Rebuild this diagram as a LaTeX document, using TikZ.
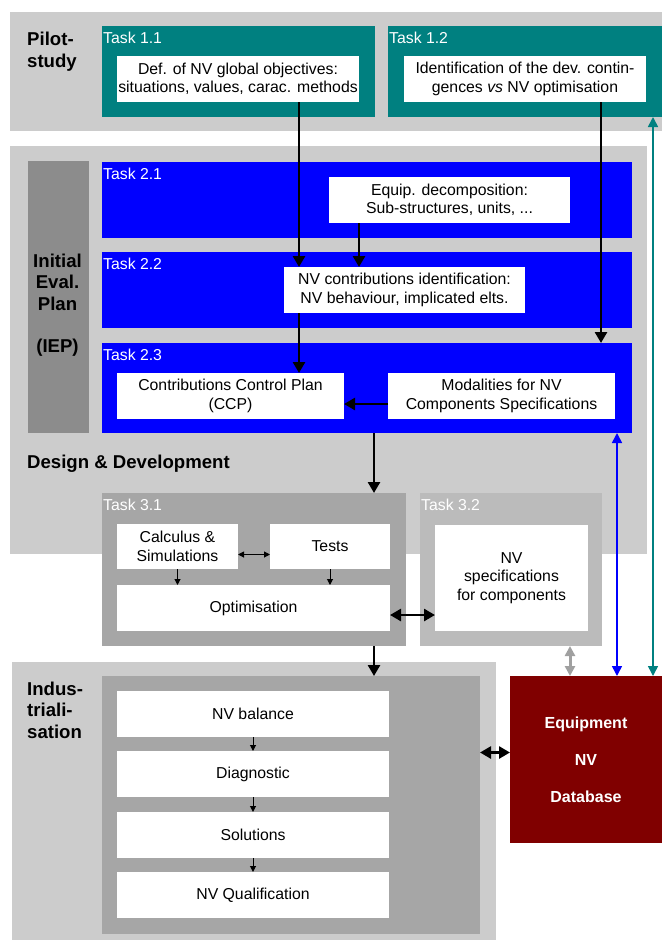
\documentclass[tikz,border=0pt]{standalone}
\usepackage{fontspec}
\setmainfont{Liberation Sans}
\usetikzlibrary{arrows.meta,fit,positioning}

\definecolor{bandgray}{HTML}{CCCCCC}
\definecolor{iepgray}{HTML}{8C8C8C}
\definecolor{midgray}{HTML}{BBBBBB}
\definecolor{taskgray}{HTML}{A6A6A6}
\definecolor{pilotteal}{HTML}{008080}
\definecolor{iepblue}{HTML}{0000FF}
\definecolor{dbred}{HTML}{800000}
\definecolor{linkgray}{HTML}{A0A0A0}

\begin{document}
\begin{tikzpicture}[
x=1pt,y=-1pt,
>={Triangle[length=11pt,width=12pt]},
area/.style={
	inner sep=0pt,
	outer sep=0pt
},
band/.style={
	area,
	fill=bandgray
},
task/.style={
	area,
	fill=#1
},
dims/.style 2 args={
	anchor=north west,
	minimum width=#1pt,
	minimum height=#2pt
},
item/.style={
	area,
	fill=white,
	align=center,
	font=\fontsize{15.8}{18.5}\selectfont
},
tasklabel/.style={
	anchor=north west,
	inner xsep=1pt,
	inner ysep=0pt,
	yshift=-6pt,
	text=white,
	font=\fontsize{15.8}{18.5}\selectfont
},
phase/.style={
	anchor=north west,
	inner sep=0pt,
	align=left,
	font=\fontsize{18.6}{21.5}\selectfont\bfseries
},
flow/.style={
	->,
	line width=2.6pt
},
link/.style={
	<->,
	line width=2.6pt
},
small/.style={
	-{Triangle[length=6pt,width=6pt]},
	line width=1pt
},
smalllink/.style={
	{Triangle[length=6pt,width=6pt]}-{Triangle[length=6pt,width=6pt]},
	line width=1pt
},
dblink/.style={
	{Triangle[length=10pt,width=10pt]}-{Triangle[length=10pt,width=10pt]},
	line width=1.6pt,
	draw=#1
}
]
\useasboundingbox (0,0) rectangle (662,943);

% phases
\node[band,fit={(10,12) (662,131)}] (pilot) {};
\node[band,fit={(10,146) (647,554)}] (design) {};
\node[band,fit={(12,662) (496,940)}] (indus) {};

% tasks
\node[task=pilotteal,fit={(102,26) (375,117)}] (t11) {};
\node[task=pilotteal,fit={(388,26) (662,117)}] (t12) {};
\node[task=iepgray,fit={(28,161) (89,433)}] (iep) {};
\node[task=iepblue,fit={(102,162) (632,238)}] (t21) {};
\node[task=iepblue,fit={(102,252) (632,328)}] (t22) {};
\node[task=iepblue,fit={(102,343) (632,433)}] (t23) {};
\node[task=taskgray,fit={(102,493) (406,646)}] (t31) {};
\node[task=midgray,fit={(420,493) (602,646)}] (t32) {};
\node[task=taskgray,fit={(102,676) (480,934)}] (ind) {};
\node[task=dbred,fit={(510,676) (662,843)}] (db) {};

\foreach \t/\l in {t11/1.1,t12/1.2,t21/2.1,t22/2.2,t23/2.3,t31/3.1,t32/3.2}
\node[tasklabel] (\t lbl) at (\t.north west) {Task \l};

% phase titles
\node[phase] (pilotlbl) at (27,32) {Pilot-\\study};
\node[phase,anchor=north,align=center] (ieplbl) at (57.5,253.5) {Initial\\Eval.\\Plan\\[21pt](IEP)};
\node[phase,anchor=base west] (designlbl) at (27,468) {Design \& Development};
\node[phase] (induslbl) at (27,681.5) {Indus-\\triali-\\sation};
\node[area,align=center,text=white,font=\fontsize{16}{37}\selectfont\bfseries] (dblbl) at (586,760) {Equipment\\NV\\Database};

% boxes
\node[item,dims={242}{46}] (objectives) at (117,56) {Def. of NV global objectives:\\situations, values, carac. methods};
\node[item,dims={242}{46}] (contingences) at (404,56) {Identification of the dev. contin-\\gences \emph{vs} NV optimisation};
\node[item,dims={241}{46}] (decomp) at (329,177) {Equip. decomposition:\\Sub-structures, units, ...};
\node[item,dims={241}{46}] (contrib) at (284,267) {NV contributions identification:\\NV behaviour, implicated elts.};
\node[item,dims={227}{46}] (ccp) at (117,373) {Contributions Control Plan\\(CCP)};
\node[item,dims={227}{46}] (modal) at (388,373) {Modalities for NV\\Components Specifications};
\node[item,dims={121}{45}] (calc) at (117,524) {Calculus \&\\Simulations};
\node[item,dims={120}{45}] (tests) at (270,524) {Tests};
\node[item,dims={273}{46}] (optim) at (117,585) {Optimisation};
\node[item,dims={153}{106}] (nvspec) at (435,525) {NV\\specifications\\for components};

\foreach \n/\y/\txt in {balance/691/NV balance,diag/751/Diagnostic,sol/812/Solutions,qualif/872/NV Qualification}
\node[item,dims={272}{46}] (\n) at (117,\y) {\txt};

% vertical lines
\coordinate (xa) at (299,0);
\coordinate (xb) at (359,0);
\coordinate (xc) at (601,0);
\coordinate (xd) at (374,0);
\coordinate (xe) at (570,0);
\coordinate (xf) at (617,0);
\coordinate (xg) at (653,0);

\draw[flow] (objectives.south -| xa) -- (contrib.north -| xa);
\draw[flow] (decomp.south -| xb) -- (contrib.north -| xb);
\draw[flow] (contingences.south -| xc) -- (t23.north -| xc);
\draw[flow] (contrib.south -| xa) -- (ccp.north -| xa);
\draw[flow] ([yshift=-8pt]modal.west) -- ([yshift=-8pt]ccp.east);
\draw[flow] (t23.south -| xd) -- (t31.north -| xd);
\draw[flow] (t31.south -| xd) -- (ind.north -| xd);

\draw[smalllink] ([yshift=-8pt]calc.east) -- ([yshift=-8pt]tests.west);
\draw[small] (calc) -- (calc |- optim.north);
\draw[small] (tests) -- (tests |- optim.north);
\draw[link] ([yshift=-7pt]optim.east) -- ([yshift=-7pt]optim.east -| nvspec.west);

\foreach \a/\b in {balance/diag,diag/sol,sol/qualif}
\draw[small] (\a) -- (\b);

\draw[link] ([yshift=7pt]db.west) -- ([yshift=7pt]db.west -| ind.east);
\draw[dblink=linkgray,line width=3pt] (t32.south -| xe) -- (db.north -| xe);
\draw[dblink=iepblue] (t23.south -| xf) -- (db.north -| xf);
\draw[dblink=pilotteal] (t12.south -| xg) -- (db.north -| xg);
\end{tikzpicture}
\end{document}
